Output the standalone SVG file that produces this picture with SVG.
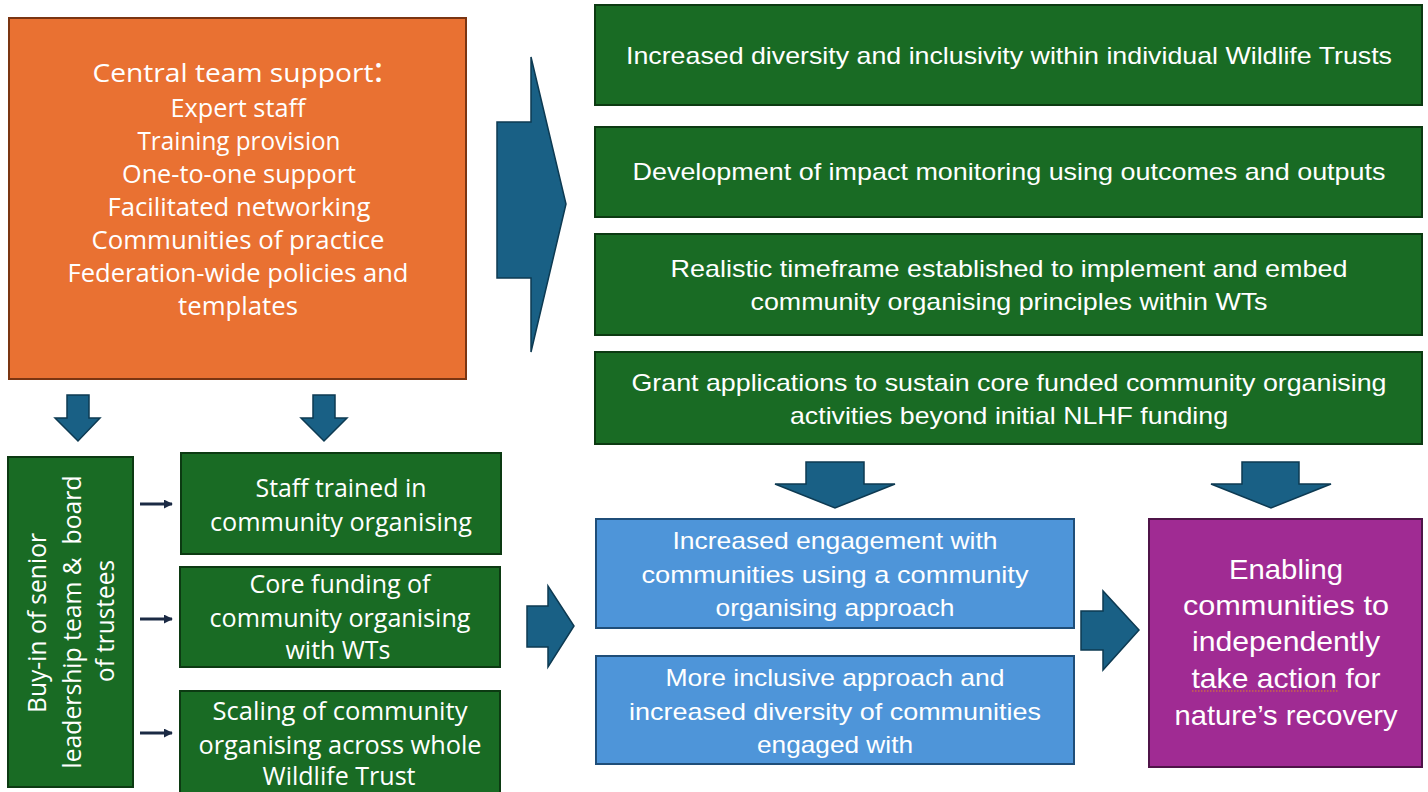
<svg xmlns="http://www.w3.org/2000/svg" width="1428" height="792" viewBox="0 0 1428 792">
  <defs>
    <style>
      .bg { fill: #ffffff; }
      .orange { fill: #E97132; stroke: #7A3512; stroke-width: 2; }
      .green { fill: #196B24; stroke: #0C3A12; stroke-width: 2; }
      .blue { fill: #4E95D9; stroke: #1F4E79; stroke-width: 2; }
      .purple { fill: #A02B93; stroke: #4F1448; stroke-width: 2; }
      .bigArrow { fill: #196085; stroke: #0D3A52; stroke-width: 1.5; stroke-linejoin: miter; }
      .thin { stroke: #1B2A44; stroke-width: 3; fill: none; }
      .t { fill: #ffffff; font-family: "Open Sans", "Liberation Sans", sans-serif; text-anchor: middle; font-size: 25px; }
      .cond { fill: #ffffff; font-family: "Liberation Sans Narrow", "Liberation Sans", sans-serif; text-anchor: middle; font-size: 24px; }
      .cond28 { fill: #ffffff; font-family: "Liberation Sans Narrow", "Liberation Sans", sans-serif; text-anchor: middle; font-size: 28px; }
    </style>
    <marker id="tip" viewBox="0 0 10 10" refX="9" refY="5" markerWidth="3" markerHeight="3" orient="auto">
      <path d="M0,0 L10,5 L0,10 z" fill="#1B2A44"/>
    </marker>
  </defs>

  <rect class="bg" x="0" y="0" width="1428" height="792"/>

  <!-- Central team support -->
  <g id="central-support">
    <rect class="orange" x="9" y="18" width="457" height="361"/>
    <text class="t" x="238" y="82" font-size="27" textLength="291" lengthAdjust="spacingAndGlyphs">Central team support<tspan font-size="34">:</tspan></text>
    <text class="t" x="238" y="117" textLength="135" lengthAdjust="spacingAndGlyphs">Expert staff</text>
    <text class="t" x="239" y="150" textLength="203" lengthAdjust="spacingAndGlyphs">Training provision</text>
    <text class="t" x="239" y="183" textLength="234" lengthAdjust="spacingAndGlyphs">One-to-one support</text>
    <text class="t" x="239" y="216" textLength="263" lengthAdjust="spacingAndGlyphs">Facilitated networking</text>
    <text class="t" x="238" y="249" textLength="293" lengthAdjust="spacingAndGlyphs">Communities of practice</text>
    <text class="t" x="238" y="282" textLength="341" lengthAdjust="spacingAndGlyphs">Federation-wide policies and</text>
    <text class="t" x="238" y="315" textLength="120" lengthAdjust="spacingAndGlyphs">templates</text>
  </g>

  <!-- Organisational outcomes -->
  <g id="diversity-inclusivity">
    <rect class="green" x="595" y="5" width="827" height="100"/>
    <text class="cond" x="1009" y="64" textLength="766" lengthAdjust="spacingAndGlyphs">Increased diversity and inclusivity within individual Wildlife Trusts</text>
  </g>
  <g id="impact-monitoring">
    <rect class="green" x="595" y="127" width="827" height="90"/>
    <text class="cond" x="1009" y="180" textLength="753" lengthAdjust="spacingAndGlyphs">Development of impact monitoring using outcomes and outputs</text>
  </g>
  <g id="realistic-timeframe">
    <rect class="green" x="595" y="234" width="827" height="101"/>
    <text class="cond" x="1009" y="277" textLength="677" lengthAdjust="spacingAndGlyphs">Realistic timeframe established to implement and embed</text>
    <text class="cond" x="1009" y="310" textLength="517" lengthAdjust="spacingAndGlyphs">community organising principles within WTs</text>
  </g>
  <g id="grant-applications">
    <rect class="green" x="595" y="352" width="827" height="92"/>
    <text class="cond" x="1009" y="391" textLength="755" lengthAdjust="spacingAndGlyphs">Grant applications to sustain core funded community organising</text>
    <text class="cond" x="1009" y="424" textLength="438" lengthAdjust="spacingAndGlyphs">activities beyond initial NLHF funding</text>
  </g>

  <!-- Trust-level foundations -->
  <g id="leadership-buy-in">
    <rect class="green" x="8" y="457" width="125" height="330"/>
    <text class="t" transform="translate(46,623) rotate(-90)" textLength="180" lengthAdjust="spacingAndGlyphs">Buy-in of senior</text>
    <text class="t" transform="translate(81,622) rotate(-90)" textLength="293" lengthAdjust="spacingAndGlyphs" xml:space="preserve">leadership team &amp;  board</text>
    <text class="t" transform="translate(114,621) rotate(-90)" textLength="122" lengthAdjust="spacingAndGlyphs">of trustees</text>
  </g>
  <g id="staff-trained">
    <rect class="green" x="181" y="453" width="320" height="101"/>
    <text class="t" x="341" y="497" textLength="171" lengthAdjust="spacingAndGlyphs">Staff trained in</text>
    <text class="t" x="341" y="531" textLength="262" lengthAdjust="spacingAndGlyphs">community organising</text>
  </g>
  <g id="core-funding">
    <rect class="green" x="180" y="567" width="320" height="100"/>
    <text class="t" x="340" y="593" textLength="181" lengthAdjust="spacingAndGlyphs">Core funding of</text>
    <text class="t" x="340" y="627" textLength="261" lengthAdjust="spacingAndGlyphs">community organising</text>
    <text class="t" x="338" y="659" textLength="105" lengthAdjust="spacingAndGlyphs">with WTs</text>
  </g>
  <g id="scaling">
    <rect class="green" x="180" y="691" width="320" height="106"/>
    <text class="t" x="340" y="720" textLength="255" lengthAdjust="spacingAndGlyphs">Scaling of community</text>
    <text class="t" x="340" y="754" textLength="283" lengthAdjust="spacingAndGlyphs">organising across whole</text>
    <text class="t" x="339" y="785" textLength="153" lengthAdjust="spacingAndGlyphs">Wildlife Trust</text>
  </g>

  <!-- Community outcomes -->
  <g id="increased-engagement">
    <rect class="blue" x="596" y="519" width="478" height="109"/>
    <text class="cond" x="835" y="549" textLength="325" lengthAdjust="spacingAndGlyphs">Increased engagement with</text>
    <text class="cond" x="835" y="583" textLength="387" lengthAdjust="spacingAndGlyphs">communities using a community</text>
    <text class="cond" x="835" y="616" textLength="239" lengthAdjust="spacingAndGlyphs">organising approach</text>
  </g>
  <g id="inclusive-approach">
    <rect class="blue" x="596" y="656" width="478" height="108"/>
    <text class="cond" x="835" y="686" textLength="339" lengthAdjust="spacingAndGlyphs">More inclusive approach and</text>
    <text class="cond" x="835" y="720" textLength="412" lengthAdjust="spacingAndGlyphs">increased diversity of communities</text>
    <text class="cond" x="835" y="753" textLength="156" lengthAdjust="spacingAndGlyphs">engaged with</text>
  </g>
  <g id="enabling-communities">
    <rect class="purple" x="1149" y="519" width="273" height="248"/>
    <text class="cond28" x="1286" y="579" textLength="114" lengthAdjust="spacingAndGlyphs">Enabling</text>
    <text class="cond28" x="1286" y="615" textLength="206" lengthAdjust="spacingAndGlyphs">communities to</text>
    <text class="cond28" x="1286" y="651" textLength="188" lengthAdjust="spacingAndGlyphs">independently</text>
    <text class="cond28" x="1286" y="688" textLength="189" lengthAdjust="spacingAndGlyphs">take action for</text>
    <text class="cond28" x="1286" y="725" textLength="223" lengthAdjust="spacingAndGlyphs">nature’s recovery</text>
    <line x1="1192" y1="691" x2="1338" y2="691" stroke="#C8684A" stroke-width="1.5" stroke-dasharray="1.5 1.5"/>
  </g>

  <!-- Connectors -->
  <g id="connectors">
    <!-- large chevron from support to organisational outcomes -->
    <path class="bigArrow" d="M497,122 L531,122 L531,57 L566,204 L531,352 L531,278 L497,278 Z"/>
    <!-- down arrows under the support box -->
    <path class="bigArrow" d="M67,395 L89,395 L89,418 L100,418 L78,441 L55,418 L67,418 Z"/>
    <path class="bigArrow" d="M313,395 L335,395 L335,418 L347,418 L324,441 L301,418 L313,418 Z"/>
    <!-- buy-in to each trust-level outcome -->
    <line class="thin" x1="140" y1="504" x2="172" y2="504" marker-end="url(#tip)"/>
    <line class="thin" x1="140" y1="619" x2="172" y2="619" marker-end="url(#tip)"/>
    <line class="thin" x1="140" y1="733" x2="172" y2="733" marker-end="url(#tip)"/>
    <!-- trust-level outcomes to community outcomes -->
    <path class="bigArrow" d="M527,606 L548,606 L548,586 L574,626 L548,667 L548,647 L527,647 Z"/>
    <!-- organisational outcomes down to community outcomes -->
    <path class="bigArrow" d="M806,462 L864,462 L864,484 L895,484 L835,508 L775,484 L806,484 Z"/>
    <path class="bigArrow" d="M1242,462 L1299,462 L1299,484 L1331,484 L1271,508 L1211,484 L1242,484 Z"/>
    <!-- community outcomes to enabling communities -->
    <path class="bigArrow" d="M1081,611 L1103,611 L1103,591 L1139,630 L1103,670 L1103,650 L1081,650 Z"/>
  </g>
</svg>
